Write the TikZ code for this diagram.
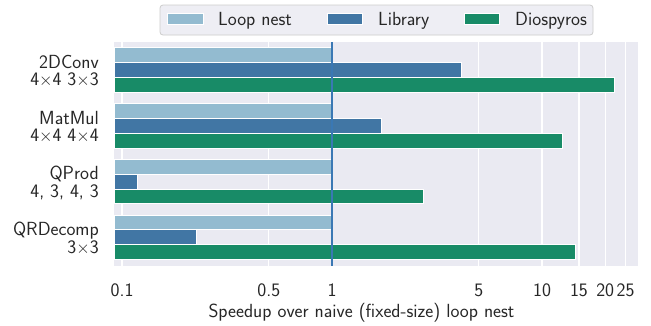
\documentclass[tikz,border=0pt]{standalone}
\begin{document}
\definecolor{loopc}{HTML}{93BBD0}
\definecolor{libc}{HTML}{4176A4}
\definecolor{diosc}{HTML}{188B67}
\definecolor{panel}{HTML}{EAEAF2}
\definecolor{unitline}{HTML}{3A78B4}
\definecolor{legbg}{HTML}{EEEEF4}
\definecolor{legedge}{HTML}{CCCCCC}
\definecolor{txt}{HTML}{262626}
% horizontal position of a speedup value on the log axis
\newcommand\xs[1]{332+210*log10(#1)}
\tikzset{
  bar/.style={draw=white, line width=0.8pt},
  grid/.style={draw=white, line width=1.4pt},
  ticklab/.style={anchor=base, inner sep=0pt, text=txt},
  catlab/.style={anchor=base east, inner sep=0pt, text=txt, align=right,
    font=\sffamily\fontsize{19}{17.4}\selectfont},
  legpatch/.style={draw=white, line width=0.6pt},
  leglab/.style={anchor=base west, inner sep=0pt, text=txt},
}
\begin{tikzpicture}[x=1pt,y=-1pt,font=\sffamily\fontsize{19}{21}\selectfont]
\useasboundingbox (0,0) rectangle (651,325);
\fill[white] (0,0) rectangle (651,325);
% plot panel
\fill[panel] (114,42) rectangle (638,266);
\foreach \v in {0.1,0.5,1,5,10,15,20,25}
  \draw[grid] ({\xs{\v}},42) -- ({\xs{\v}},266);
% bars: loop nest, library, diospyros per kernel
\foreach \i/\lib/\dio in {0/4.15/22.1, 1/1.71/12.5, 2/0.118/2.72, 3/0.227/14.4}{
  \pgfmathsetmacro\yc{70+55.75*\i}
  \filldraw[bar, fill=loopc] (114,\yc-22.3) rectangle ({\xs{1}},\yc-7.43);
  \filldraw[bar, fill=libc]  (114,\yc-7.43) rectangle ({\xs{\lib}},\yc+7.43);
  \filldraw[bar, fill=diosc] (114,\yc+7.43) rectangle ({\xs{\dio}},\yc+22.3);
}
% reference line at speedup 1
\draw[unitline, line width=1.4pt] ({\xs{1}},42) -- ({\xs{1}},266);
% category labels (two lines each, anchored on the last baseline)
\node[catlab] (c0) at (99,85.7) {2DConv\\4$\times$4 3$\times$3};
\node[catlab] (c1) at (99,141.5) {MatMul\\4$\times$4 4$\times$4};
\node[catlab] (c2) at (99,197.2) {QProd\\4, 3, 4, 3};
\node[catlab] (c3) at (99,253.0) {QRDecomp\\3$\times$3};
% tick labels
\foreach \v/\n in {0.1/t1,0.5/t2,1/t3,5/t4,10/t5,15/t6,20/t7,25/t8}
  \node[ticklab] (\n) at ({\xs{\v}},296) {\v};
\node[ticklab] (xlab) at (361.5,317) {Speedup over naive (fixed-size) loop nest};
% legend
\draw[legedge, fill=legbg, rounded corners=3pt, line width=0.8pt] (160,5) rectangle (593,35);
\filldraw[legpatch, fill=loopc] (167,13) rectangle (203,24.5);
\node[leglab] (l1) at (218,25) {Loop nest};
\filldraw[legpatch, fill=libc] (327,13) rectangle (362,24.5);
\node[leglab] (l2) at (378,25) {Library};
\filldraw[legpatch, fill=diosc] (464,13) rectangle (499,24.5);
\node[leglab] (l3) at (515,25) {Diospyros};
\end{tikzpicture}
\end{document}
